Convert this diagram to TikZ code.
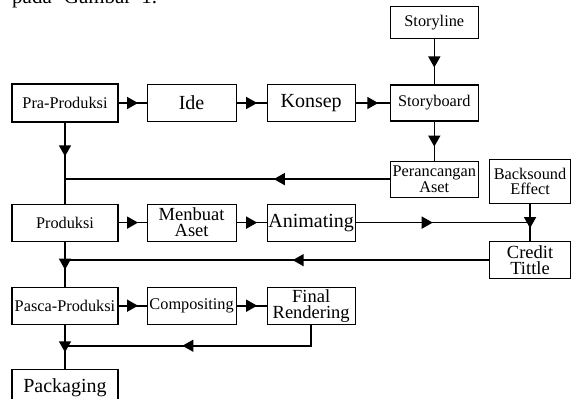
\documentclass[tikz,border=0pt]{standalone}
\usepackage{fontspec}
\setmainfont{Liberation Serif}
\usepackage{tikz}
\usetikzlibrary{arrows.meta, positioning, decorations.markings}
\newcommand{\kecil}{\fontsize{16.3}{15.5}\selectfont}
\newcommand{\sedang}{\fontsize{18.5}{16}\selectfont}
\newcommand{\besar}{\fontsize{20}{16}\selectfont}

\begin{document}
\begin{tikzpicture}[x=1pt, y=-1pt,
  blok/.style={draw, line width=1.1pt, minimum height=37pt, inner sep=0pt,
     align=center, font=\kecil},
  garis/.style={line width=1.6pt},
  midarr/.style={postaction={decorate}, decoration={markings,
     mark=at position #1 with {\arrow[xshift=5.5pt]{Triangle[length=11pt, width=12pt]}}}},
  midarr/.default=0.5]
  \useasboundingbox (0,0) rectangle (571,399);
  \node[anchor=base west, inner sep=0pt, font=\fontsize{21}{21}\selectfont] (teks) at (12,3)
        {pada\hspace{12pt}Gambar\hspace{10pt}1.};
  % baris pertama
  \node[blok, minimum width=106pt, minimum height=38pt] (pra) at (65,103) {Pra-Produksi};
  \node[blok, minimum width=89pt, font=\besar, right=28pt of pra] (ide) {Ide};
  \node[blok, minimum width=88pt, font=\besar, right=30pt of ide] (konsep) {Konsep};
  \node[blok, minimum width=88pt, minimum height=36pt, right=34pt of konsep] (storyboard) {Storyboard};
  \node[blok, minimum width=88pt, minimum height=32pt, above=45pt of storyboard] (storyline) {Storyline};
  \node[blok, minimum width=88pt, minimum height=36pt, below=39pt of storyboard] (aset) {Perancangan\\Aset};
  \node[blok, minimum width=81pt, minimum height=44pt, anchor=north west] (backsound) at (489,159) {Backsound\\Effect};
  \node[blok, minimum width=81pt, font=\sedang, below=37pt of backsound] (credit) {Credit\\Tittle};
  % baris kedua
  \node[blok, minimum width=106pt, below=81pt of pra] (produksi) {Produksi};
  \node[blok, minimum width=89pt, font=\sedang, right=28pt of produksi] (menbuat) {Menbuat\\Aset};
  \node[blok, minimum width=88pt, font=\besar, right=30pt of menbuat] (animating) {Animating};
  % baris ketiga
  \node[blok, minimum width=106pt, below=45pt of produksi] (pasca) {Pasca-Produksi};
  \node[blok, minimum width=89pt, right=28pt of pasca] (compositing) {Compositing};
  \node[blok, minimum width=88pt, font=\sedang, right=30pt of compositing] (final) {Final\\Rendering};
  \node[blok, minimum width=106pt, minimum height=36pt, font=\besar, below=44pt of pasca] (packaging) {Packaging};
  % titik temu
  \coordinate (j1) at (pra.south |- aset.west);
  \coordinate (j2) at (backsound.south |- animating.east);
  \coordinate (j3) at (produksi.south |- credit.west);
  \coordinate[below=21pt of pasca] (j4);
  \draw[garis, midarr] (pra) -- (ide);
  \draw[garis, midarr] (ide) -- (konsep);
  \draw[garis, midarr] (konsep) -- (storyboard);
  \draw[garis, midarr] (storyline) -- (storyboard);
  \draw[garis, midarr] (storyboard) -- (aset);
  \draw[garis, midarr] (pra) -- (j1);
  \draw[garis, midarr=0.34] (aset) -- (j1);
  \draw[garis] (j1) -- (produksi);
  \draw[garis, midarr] (produksi) -- (menbuat);
  \draw[garis, midarr] (menbuat) -- (animating);
  \draw[garis, midarr=0.41] (animating) -- (j2);
  \draw[garis, midarr] (backsound) -- (credit);
  \draw[garis, midarr=0.45] (credit) -- (j3);
  \draw[garis, midarr] (produksi) -- (pasca);
  \draw[garis, midarr] (pasca) -- (compositing);
  \draw[garis, midarr] (compositing) -- (final);
  \draw[garis, midarr=0.54] (final) |- (j4);
  \draw[garis, midarr] (pasca) -- (packaging);
\end{tikzpicture}
\end{document}
